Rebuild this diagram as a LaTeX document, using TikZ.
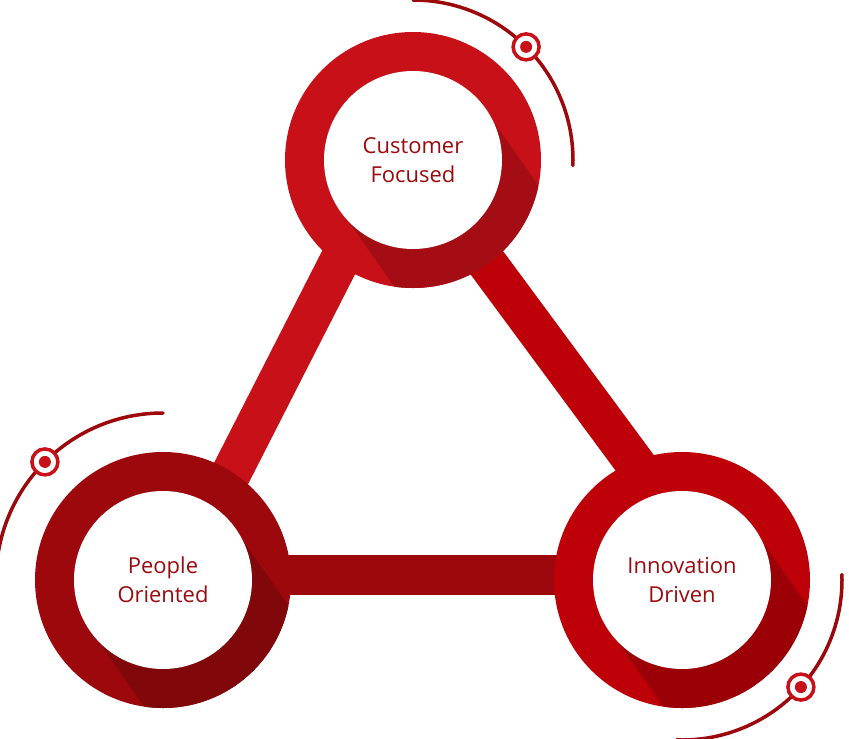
\documentclass[tikz,border=0pt]{standalone}
\usepackage{fontspec}
\setmainfont{Open Sans}
\definecolor{redA}{HTML}{C81018}
\definecolor{redB}{HTML}{9C080C}
\definecolor{redC}{HTML}{BE0008}
\definecolor{txt}{HTML}{9B0A0E}
\tikzset{
  bar/.style={line width=0.8cm},
  label/.style={text=txt, align=center, font=\fontsize{12.5}{16.5}\selectfont},
  deco/.style={line width=0.07cm, line cap=round}
}
\newcommand{\hub}[3]{% center, colour, rotation of shadow
  \fill[#2] (#1) circle (128);
  \begin{scope}
    \clip (#1) circle (128);
    \fill[#2!82!black, rotate around={#3:(#1)}] ($(#1)+(0,88)$) -- ++(300,0) -- ++(0,-176) -- ($(#1)+(0,-88)$) -- cycle;
  \end{scope}
  \fill[white] (#1) circle (89);
}
\newcommand{\marker}[2]{% position, colour
  \filldraw[#2, line width=0.07cm, fill=white] (#1) circle (13);
  \fill[#2] (#1) circle (6);
}
\usetikzlibrary{calc}
\begin{document}
\begin{tikzpicture}[x=0.02cm, y=-0.02cm]
  \useasboundingbox (0,0) rectangle (849,738);

  \coordinate (top) at (413,160);
  \coordinate (left) at (163,580);
  \coordinate (right) at (682,580);

  % Connecting bars
  \draw[bar, redA] (345,250) -- (215,505);
  \draw[bar, redC] (470,240) -- (640,470);
  \draw[bar, redB] (260,575) -- (600,575);

  % Hubs
  \hub{top}{redA}{-55}
  \hub{left}{redB}{-55}
  \hub{right}{redC}{-55}

  % Decorative arcs
  \draw[deco, redB] ($(top)+(-90:160)$) arc (-90:2:160);
  \draw[deco, redB] ($(left)+(-90:167)$) arc (-90:-180:167);
  \draw[deco, redB] ($(right)+(-2:160)$) arc (-2:92:160);
  \marker{$(top)+(-45:160)$}{redA}
  \marker{$(left)+(-135:167)$}{redA}
  \marker{$(right)+(42:160)$}{redA}

  % Labels
  \node[label] (customer) at (top) {Customer\\Focused};
  \node[label] (people) at (left) {People\\Oriented};
  \node[label] (innovation) at (right) {Innovation\\Driven};
\end{tikzpicture}
\end{document}
